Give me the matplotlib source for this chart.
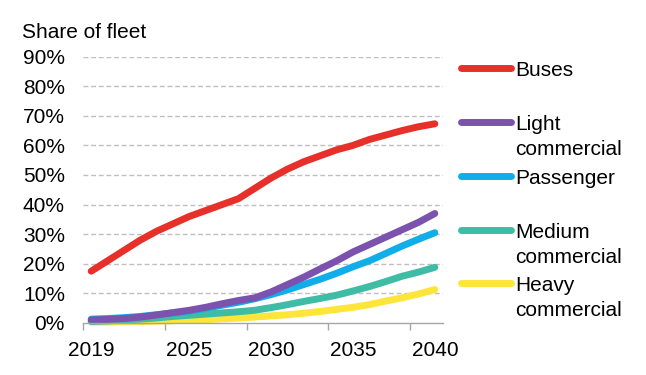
import numpy as np
import matplotlib
matplotlib.use('Agg')
import matplotlib.pyplot as plt
from matplotlib.lines import Line2D

plt.rcParams['font.family'] = ['Liberation Sans', 'DejaVu Sans']

# Share of fleet (%) by year
years = list(range(2019, 2041))
buses = [17.5, 21, 24.5, 28, 31, 33.5, 36, 38, 40, 42, 45.5, 49, 52, 54.5, 56.5, 58.5,
         60, 62, 63.5, 65, 66.3, 67.3]
light_commercial = [1, 1.2, 1.5, 2, 2.7, 3.5, 4.3, 5.3, 6.5, 7.6, 8.5, 10.5, 13, 15.5,
                    18.3, 21, 24, 26.5, 29, 31.5, 34, 37]
passenger = [1.3, 1.5, 1.8, 2.2, 2.8, 3.4, 4, 5, 6, 7, 8.2, 9.6, 11.2, 13, 14.8, 16.8,
             19, 21, 23.5, 26, 28.3, 30.5]
medium_commercial = [0.5, 0.7, 1, 1.3, 1.7, 2.2, 2.6, 3, 3.4, 3.8, 4.3, 5.2, 6.2, 7.3,
                     8.3, 9.4, 10.8, 12.3, 14, 15.8, 17.2, 18.8]
heavy_commercial = [0.3, 0.3, 0.4, 0.5, 0.6, 0.8, 0.9, 1.1, 1.4, 1.7, 2, 2.4, 2.8, 3.3,
                    3.9, 4.6, 5.3, 6.2, 7.4, 8.5, 9.8, 11.3]

series = [
    ("Buses", buses, '#E8302A'),
    ("Light\ncommercial", light_commercial, '#7B52AE'),
    ("Passenger", passenger, '#0FAEE8'),
    ("Medium\ncommercial", medium_commercial, '#3EBCA5'),
    ("Heavy\ncommercial", heavy_commercial, '#FDE53A'),
]
x_labels = [2019, 2025, 2030, 2035, 2040]

fig = plt.figure(figsize=(6.46, 3.75), dpi=100)
ax = fig.add_axes([0.1285, 0.1387, 0.5573, 0.7104])

# draw back to front so red sits on top like the original
for name, vals, col in reversed(series):
    ax.plot(years, np.array(vals) / 100, color=col, lw=5,
            solid_capstyle='round', solid_joinstyle='round', clip_on=False)

ax.set_xlim(2018.5, 2040.5)
ax.set_ylim(0, 0.9)
ax.set_yticks(np.arange(0, 0.91, 0.1))
ax.set_yticklabels([f"{int(round(v * 100))}%" for v in np.arange(0, 0.91, 0.1)])
ax.set_xticks(x_labels)
ax.set_xticklabels([str(y) for y in x_labels])
ax.set_xticks(np.arange(2018.5, 2040, 5), minor=True)
ax.tick_params(axis='y', length=0, pad=13, labelsize=15)
ax.tick_params(axis='x', which='major', length=0, pad=13, labelsize=15)
ax.tick_params(axis='x', which='minor', length=5, color='#A6A6A6', width=1)

for s in ['top', 'right', 'left']:
    ax.spines[s].set_visible(False)
ax.spines['bottom'].set_color('#A6A6A6')
ax.spines['bottom'].set_linewidth(1)

ax.yaxis.grid(True, ls=(0, (3.5, 2)), color='#BFBFBF', lw=1)
ax.set_axisbelow(True)
for gl in ax.yaxis.get_gridlines()[:1]:
    gl.set_visible(False)

fig.text(22 / 646, 1 - 38 / 375, "Share of fleet", fontsize=15, ha='left', va='baseline')

# legend drawn by hand so each handle lines up with the first text line
legend_y = [68, 122, 176, 230, 283]
for (name, vals, col), py in zip(series, legend_y):
    fy = 1 - py / 375
    fig.add_artist(Line2D([461 / 646, 511 / 646], [fy, fy], color=col, lw=5,
                          solid_capstyle='round'))
    fig.text(515 / 646, fy + 7 / 375, name, fontsize=15, ha='left', va='top',
             linespacing=1.42)

fig.savefig('out.png', dpi=100)
